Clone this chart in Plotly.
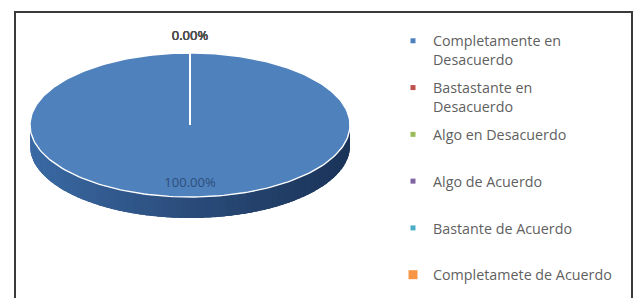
import numpy as np
import plotly.graph_objects as go

# ---------------- data ----------------
categories = [
    "Completamente en Desacuerdo",
    "Bastastante en Desacuerdo",
    "Algo en Desacuerdo",
    "Algo de Acuerdo",
    "Bastante de Acuerdo",
    "Completamete de Acuerdo",
]
legend_labels = [
    "Completamente en<br>Desacuerdo",
    "Bastastante en<br>Desacuerdo",
    "Algo en Desacuerdo<br> ",
    "Algo de Acuerdo<br> ",
    "Bastante de Acuerdo<br> ",
    "Completamete de Acuerdo",
]
percentages = [100.0, 0.0, 0.0, 0.0, 0.0, 0.0]

# ---------------- styles ----------------
colors = ["#4F81BD", "#C0504D", "#9BBB59", "#8064A2", "#4BACC6", "#F79646"]
legend_marker_sizes = [5, 5, 5, 5, 5, 9]
W, H = 635, 298
CX, CY, RX, RY, DEPTH = 190.0, 125.0, 160.0, 72.0, 21.0


def px_x(v):
    return v / W


def px_y(v):
    return 1 - v / H


def hex_rgb(h):
    h = h.lstrip("#")
    return np.array([int(h[i:i + 2], 16) for i in (0, 2, 4)], dtype=float)


def pt(theta, dy=0.0):
    # theta measured clockwise from 12 o'clock; y axis points down
    return CX + RX * np.sin(theta), CY - RY * np.cos(theta) + dy


# shading factors for the side wall (left, centre, right)
f_left = np.array([0.74, 0.82, 0.87])
f_mid = np.array([0.54, 0.59, 0.65])
f_right = np.array([0.34, 0.40, 0.47])


def side_color(base, t):
    if t < 0:
        f = f_mid + (f_left - f_mid) * (-t)
    else:
        f = f_mid + (f_right - f_mid) * t
    c = np.clip(base * f, 0, 255).astype(int)
    return "rgb(%d,%d,%d)" % tuple(c)


total = float(sum(percentages))
fracs = [p / total for p in percentages]
starts = np.concatenate([[0.0], np.cumsum(fracs)[:-1]]) * 2 * np.pi
ends = np.cumsum(fracs) * 2 * np.pi

fig = go.Figure()

# ---- side walls (front half only) ----
for i, (s, e) in enumerate(zip(starts, ends)):
    lo, hi = max(s, np.pi / 2), min(e, 3 * np.pi / 2)
    if hi <= lo:
        continue
    base = hex_rgb(colors[i])
    th = np.linspace(lo, hi, 120)
    xt, yt = pt(th)
    xb, yb = pt(th[::-1], DEPTH)
    col = side_color(base, 0.3)
    fig.add_trace(go.Scatter(
        x=np.concatenate([xt, xb, xt[:1]]), y=np.concatenate([yt, yb, yt[:1]]),
        mode="lines", fill="toself", fillcolor=col, line=dict(color=col, width=0),
        hoverinfo="skip", showlegend=False))
    nseg = max(2, int(70 * (hi - lo) / np.pi))
    edges = np.linspace(lo, hi, nseg + 1)
    step = edges[1] - edges[0]
    for a0, a1 in zip(edges[:-1], edges[1:]):
        b1 = min(a1 + 0.6 * step, hi)
        th = np.linspace(a0, b1, 5)
        xt, yt = pt(th)
        xb, yb = pt(th[::-1], DEPTH)
        xs = np.concatenate([xt, xb, xt[:1]])
        ys = np.concatenate([yt, yb, yt[:1]])
        col = side_color(base, float(np.sin((a0 + a1) / 2)))
        fig.add_trace(go.Scatter(
            x=xs, y=ys, mode="lines", fill="toself", fillcolor=col,
            line=dict(color=col, width=0), hoverinfo="skip", showlegend=False))

# ---- top faces ----
for i, (s, e) in enumerate(zip(starts, ends)):
    n = max(2, int(240 * (e - s) / (2 * np.pi)))
    th = np.linspace(s, e, n)
    xa, ya = pt(th)
    xs = np.concatenate([[CX], xa, [CX]])
    ys = np.concatenate([[CY], ya, [CY]])
    fig.add_trace(go.Scatter(
        x=xs, y=ys, mode="lines", fill="toself", fillcolor=colors[i],
        line=dict(color="white", width=1.4), name=categories[i],
        hoverinfo="name", showlegend=False))

# ---- data labels ----
for i, (s, e) in enumerate(zip(starts, ends)):
    mid = (s + e) / 2
    if fracs[i] > 0:
        lx, ly = pt(mid)
        lx = CX + 0.8 * (lx - CX)
        ly = CY + 0.8 * (ly - CY) + 1
        fcol = "#2E4F7A"
    else:
        lx, ly = pt(mid, -16)
        fcol = "#505050"
    fig.add_trace(go.Scatter(
        x=[lx], y=[ly], mode="text", text=["%.2f%%" % percentages[i]],
        textfont=dict(family="Open Sans", size=13, color=fcol),
        hoverinfo="skip", showlegend=False))

# ---- legend entries ----
for i, lab in enumerate(legend_labels):
    fig.add_trace(go.Scatter(
        x=[None], y=[None], mode="markers", name=lab, legendgroup=str(i),
        marker=dict(symbol="square", size=legend_marker_sizes[i], color=colors[i]),
    ))

fig.update_layout(
    width=W, height=H,
    margin=dict(l=0, r=0, t=0, b=0),
    paper_bgcolor="white", plot_bgcolor="white",
    xaxis=dict(range=[0, W], visible=False, fixedrange=True),
    yaxis=dict(range=[H, 0], visible=False, fixedrange=True),
    showlegend=True,
    legend=dict(
        x=px_x(393), xanchor="left", y=px_y(25), yanchor="top",
        font=dict(family="Open Sans", size=14.3, color="#5F5F5F"),
        valign="top", tracegroupgap=6.6, bgcolor="rgba(0,0,0,0)",
        itemclick=False, itemdoubleclick=False,
    ),
    shapes=[dict(type="rect", xref="paper", yref="paper",
                 x0=px_x(15), x1=px_x(632), y0=-0.1, y1=px_y(12),
                 line=dict(color="#3A3A3A", width=2), fillcolor="rgba(0,0,0,0)",
                 layer="below")],
)

fig.write_html(
    "out.html",
    config={"displayModeBar": False},
    post_script="document.body.style.margin='0px';document.body.style.overflow='hidden';",
)
